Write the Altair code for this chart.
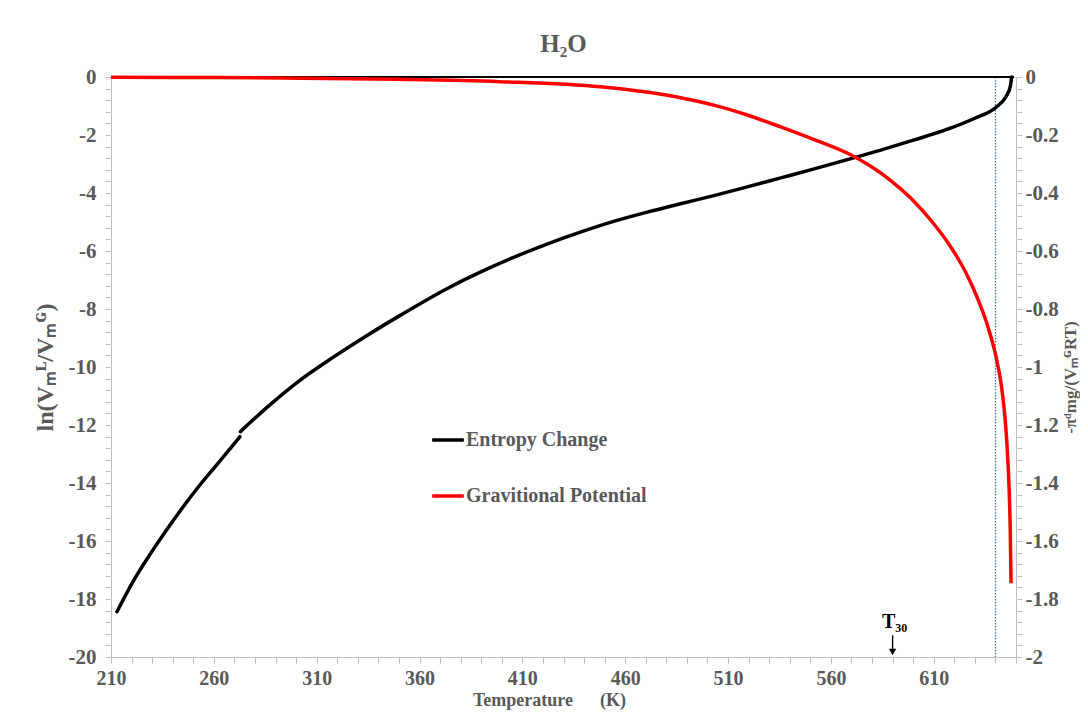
import altair as alt
import pandas as pd

# ---------------- data ----------------
# Entropy change: ln(Vm^L / Vm^G) against temperature (left axis)
# (the curve has a small step at the melting point, so it is drawn in two pieces)
ent_T = [212.9, 220.7, 228.8, 237.0, 245.1, 253.2, 261.3, 272.7,
         272.9, 285.7, 302.0, 318.1, 334.3, 350.6, 373.3, 389.5, 405.7, 422.0, 438.2,
         454.4, 470.7, 486.9, 503.1, 519.3, 535.6, 551.9, 568.0, 584.2, 600.5,
         616.7, 629.7, 640.2, 645.1, 647.2, 647.9]
ent_v = [-18.44, -17.40, -16.48, -15.62, -14.82, -14.07, -13.38, -12.40,
         -12.23, -11.40, -10.45, -9.66, -8.92, -8.22, -7.30, -6.73, -6.22, -5.76, -5.35,
         -4.98, -4.66, -4.37, -4.09, -3.79, -3.48, -3.17, -2.85, -2.52, -2.17,
         -1.80, -1.43, -1.05, -0.68, -0.33, 0.0]
ent_piece = [1] * 8 + [2] * 27

# Gravitational potential: -pi^d m g / (Vm^G R T) (right axis)
grav_T = [210.0, 260.0, 302.0, 350.0, 399.0, 448.0, 488.0, 503.1, 519.3, 535.6,
          551.9, 569.6, 579.4, 589.1, 598.9, 608.6, 618.3, 625.6, 631.3, 636.2,
          640.2, 642.7, 644.6, 645.8, 646.7, 647.2, 647.6]
grav_v = [-0.001, -0.002, -0.004, -0.008, -0.016, -0.034, -0.073, -0.097, -0.131, -0.172,
          -0.216, -0.268, -0.308, -0.357, -0.418, -0.494, -0.586, -0.674, -0.763, -0.858,
          -0.962, -1.055, -1.17, -1.29, -1.43, -1.56, -1.746]

series_names = ["Entropy Change", "Gravitional Potential"]
series_colors = ["#000000", "#FF0000"]

zero_T = [210.0, 649.0]      # black line along ln = 0
marker_T = [640.0]           # dotted vertical line
t30_T = [590.0]              # T30 annotation
t30_label = ["T\u2083\u2080"]

x_ticks = [210 + 10 * i for i in range(45)]
left_ticks = [round(-20 + 0.4 * i, 1) for i in range(51)]
right_ticks = [round(-2 + 0.04 * i, 2) for i in range(51)]

# ---------------- styling ----------------
FONT = "Liberation Serif"
GRAY = "#595959"
AXC = "#BFBFBF"

ent_df = pd.DataFrame({"T": ent_T, "v": ent_v, "piece": ent_piece,
                       "series": series_names[0]})
grav_df = pd.DataFrame({"T": grav_T, "v": grav_v, "series": series_names[1]})
zero_df = pd.DataFrame({"T0": [zero_T[0]], "T1": [zero_T[1]], "v": [0.0]})
marker_df = pd.DataFrame({"T": marker_T})
t30_df = pd.DataFrame({"T": t30_T, "label": t30_label})

xscale = alt.Scale(domain=[210, 650], nice=False, zero=False)
lscale = alt.Scale(domain=[-20, 0], nice=False, zero=False)
rscale = alt.Scale(domain=[-2, 0], nice=False, zero=False)

common_axis = dict(
    grid=False, labelFont=FONT, labelFontWeight="bold",
    labelColor=GRAY, titleFont=FONT, titleFontWeight="bold",
    titleColor=GRAY, tickColor=AXC, domainColor=AXC, tickSize=6,
    labelOverlap=False, labelFlush=False,
)

x_axis = alt.Axis(
    values=x_ticks,
    labelExpr="(datum.value - 210) % 50 == 0 ? '' + datum.value : ''",
    title="Temperature\u00a0\u00a0\u00a0\u00a0\u00a0\u00a0(K)",
    titleX=438, titleY=43, titleBaseline="middle", titleAlign="center",
    titleFontSize=18, labelFontSize=20, labelPadding=5, **common_axis,
)
left_axis = alt.Axis(
    values=left_ticks, orient="left",
    labelExpr="datum.value % 2 == 0 ? '' + datum.value : ''",
    title="ln(V\u2098\u1d38/V\u2098\u1d33)",
    titleX=-66, titleY=290, titleAngle=270, titleAlign="center",
    titleBaseline="middle", titleFontSize=24, labelFontSize=21,
    labelPadding=9, **common_axis,
)
right_axis = alt.Axis(
    values=right_ticks, orient="right",
    labelExpr="abs(datum.value * 5 - round(datum.value * 5)) < 0.000001 ? '' + datum.value : ''",
    title="-\u03c0\u1d48mg/(V\u2098\u1d33RT)",
    titleX=54, titleY=300, titleAngle=270, titleAlign="center",
    titleBaseline="middle", titleFontSize=17, labelFontSize=21,
    labelPadding=3, **common_axis,
)

color = alt.Color(
    "series:N",
    scale=alt.Scale(domain=series_names, range=series_colors),
    legend=alt.Legend(
        title=None, orient="none", legendX=319, legendY=345,
        symbolType="stroke", symbolSize=1000, symbolStrokeWidth=3.5,
        labelFont=FONT, labelFontSize=20, labelFontWeight="bold",
        labelColor=GRAY, labelLimit=400, rowPadding=28, padding=0,
        labelOffset=0,
    ),
)

X = alt.X("T:Q", scale=xscale, axis=x_axis)

# ---------------- left-axis group ----------------
ent_line = alt.Chart(ent_df).mark_line(
    strokeWidth=3.5, interpolate="monotone", strokeCap="round"
).encode(
    x=X,
    y=alt.Y("v:Q", scale=lscale, axis=left_axis),
    color=color,
    detail="piece:N",
)

zero_line = alt.Chart(zero_df).mark_rule(color="#000000", strokeWidth=2).encode(
    x=alt.X("T0:Q", scale=xscale, axis=x_axis),
    x2="T1:Q",
    y=alt.Y("v:Q", scale=lscale, axis=left_axis),
)

marker_line = alt.Chart(marker_df).mark_rule(
    color="#2E75B6", strokeWidth=1.2, strokeDash=[1.5, 1.5]
).encode(x=X)

t30_text = alt.Chart(t30_df).mark_text(
    font=FONT, fontSize=20, fontWeight="bold", color="#000000",
    baseline="middle", align="center", dx=2,
).encode(
    x=X,
    y=alt.YDatum(-18.8, scale=lscale, axis=left_axis),
    text="label:N",
)
t30_shaft = alt.Chart(t30_df).mark_rule(color="#000000", strokeWidth=1.4).encode(
    x=X,
    y=alt.YDatum(-19.25, scale=lscale, axis=left_axis),
    y2=alt.datum(-19.8),
)
t30_head = alt.Chart(t30_df).mark_point(
    shape="triangle-down", filled=True, color="#000000", size=55, opacity=1
).encode(
    x=X,
    y=alt.YDatum(-19.83, scale=lscale, axis=left_axis),
)

left_group = alt.layer(
    marker_line, ent_line, zero_line, t30_text, t30_shaft, t30_head
)

# ---------------- right-axis group ----------------
grav_line = alt.Chart(grav_df).mark_line(strokeWidth=3.5, interpolate="monotone").encode(
    x=X,
    y=alt.Y("v:Q", scale=rscale, axis=right_axis),
    color=color,
)

chart = alt.layer(left_group, grav_line).resolve_scale(y="independent").properties(
    width=905,
    height=580,
    title=alt.Title(
        "H\u2082O", font=FONT, fontSize=25, fontWeight="bold", color=GRAY,
        anchor="middle", offset=13, dy=24, baseline="alphabetic",
    ),
    autosize=alt.AutoSizeParams(type="none"),
    padding={"left": 103, "top": 69, "right": 64, "bottom": 53},
).configure_view(stroke=None).configure_axis(
    labelFontWeight="bold"
).configure(background="#FFFFFF")

chart.save("out.html", embed_options={"renderer": "svg", "actions": False})
